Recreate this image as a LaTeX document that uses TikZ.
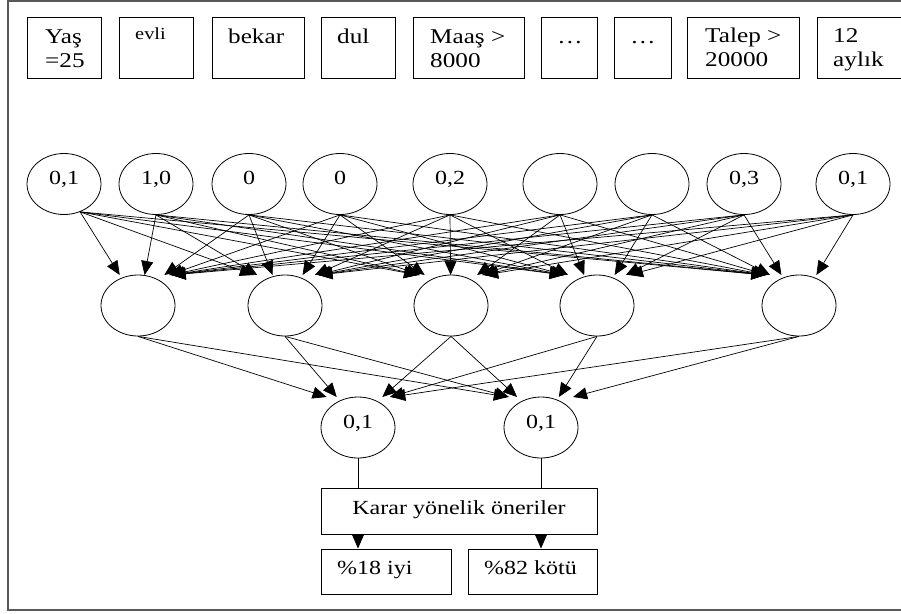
\documentclass[tikz,border=0pt]{standalone}
\usepackage{fontspec}
\setmainfont{Liberation Serif}[FakeStretch=1.2]
\usetikzlibrary{shapes.geometric,arrows.meta,calc}
\newcommand{\twoline}[2]{\vtop{\hbox{#1}\hbox{#2}}}
\begin{document}
\begin{tikzpicture}[x=1pt,y=-1pt,
  unit/.style={draw, ellipse, line width=0.8pt, minimum width=74pt, minimum height=61pt, inner sep=0pt},
  cell/.style={draw, line width=1pt, inner sep=0pt},
  lbl/.style={anchor=base, inner sep=0pt, font=\fontsize{20}{22}\selectfont},
  txt/.style={anchor=base west, inner sep=0pt, font=\fontsize{21}{24}\selectfont},
  mid/.style={anchor=base west, inner sep=0pt, font=\fontsize{20}{24}\selectfont},
  small/.style={anchor=base west, inner sep=0pt, font=\fontsize{17}{18}\selectfont},
  link/.style={line width=0.7pt, -{Triangle[length=14pt,width=12pt]}},
  plain/.style={line width=0.8pt},
]
\useasboundingbox (0,0) rectangle (901,613);
\clip (0,0) rectangle (901,613);

% outer frame
\draw[line width=2pt, draw=black!65] (8.3,0.7) rectangle (910,609.5);

% input attribute boxes
\node[cell, minimum width=74pt,  minimum height=61pt] (b1) at (64,47.5) {};
\node[cell, minimum width=74pt,  minimum height=61pt] (b2) at (156,47.5) {};
\node[cell, minimum width=92pt,  minimum height=61pt] (b3) at (258,47.5) {};
\node[cell, minimum width=74pt,  minimum height=61pt] (b4) at (358,47.5) {};
\node[cell, minimum width=111pt, minimum height=61pt] (b5) at (468.5,47.5) {};
\node[cell, minimum width=56pt,  minimum height=61pt] (b6) at (569,47.5) {};
\node[cell, minimum width=57pt,  minimum height=61pt] (b7) at (642.5,47.5) {};
\node[cell, minimum width=112pt, minimum height=61pt] (b8) at (743,47.5) {};
\node[cell, minimum width=88pt,  minimum height=61pt] (b9) at (861,47.5) {};

\node[txt]   (t1) at (45,43)  {\twoline{Yaş}{=25}};
\node[small] (t2) at (135,39) {evli};
\node[txt]   (t3) at (228,43) {bekar};
\node[txt]   (t4) at (337,43) {dul};
\node[txt]   (t5) at (430,43) {\twoline{Maaş >}{8000}};
\node[txt, anchor=base] (t6) at (570,43) {…};
\node[txt, anchor=base] (t7) at (643,43) {…};
\node[txt]   (t8) at (705,42) {\twoline{Talep >}{20000}};
\node[txt]   (t9) at (833,42) {\twoline{12}{aylık}};

% input layer
\foreach \n/\x/\v in {1/64/{0,1}, 2/156/{1,0}, 3/249/0, 4/340/0, 5/450/{0,2},
                      6/560/{}, 7/652/{}, 8/744/{0,3}, 9/853/{0,1}} {
  \node[unit] (i\n) at (\x,184) {};
  \node[lbl] (li\n) at (\x,184) {\v};
}

% hidden layer
\foreach \n/\x in {1/138, 2/285, 3/451, 4/597, 5/799}
  \node[unit] (h\n) at (\x,305.5) {};

% output layer
\node[unit] (o1) at (358,427.5) {};
\node[unit] (o2) at (541,427.5) {};
\node[lbl] (lo1) at (358,428) {0,1};
\node[lbl] (lo2) at (541,428) {0,1};

% decision boxes
\node[cell, minimum width=276pt, minimum height=46pt] (karar) at (459,511) {};
\node[cell, minimum width=130pt, minimum height=45pt] (iyi)   at (386,571.5) {};
\node[cell, minimum width=129pt, minimum height=45pt] (kotu)  at (532.5,571.5) {};
\node[mid, anchor=base] (tk) at (459,514) {Karar yönelik öneriler};
\node[mid] (ti) at (337,574) {\%18 iyi};
\node[mid] (tc) at (484,574) {\%82 kötü};

% input -> hidden connections: heads gather along the top of each hidden unit,
% shifted sideways according to the slope of the incoming line
\coordinate (s1) at (i1.-60);
\foreach \n in {2,...,9} \coordinate (s\n) at (i\n.south);
\foreach \sx [count=\a] in {80,156,249,340,450,560,652,744,853}
  \foreach \hx [count=\b] in {138,285,451,597,799} {
    \pgfmathsetmacro\off{(\sx-\hx)/veclen(\sx-\hx,91)*34}
    \coordinate (e\a-\b) at ($(h\b.center)+(\off,-30.5)$);
    \draw[link] (s\a) -- (e\a-\b);
  }

% hidden -> output connections
\foreach \hx [count=\a] in {138,285,451,597,799}
  \foreach \ox [count=\b] in {358,541} {
    \pgfmathsetmacro\off{(\hx-\ox)/veclen(\hx-\ox,91)*34}
    \coordinate (f\a-\b) at ($(o\b.center)+(\off,-30.5)$);
    \draw[link] (h\a.south) -- (f\a-\b);
  }

% output -> decision
\draw[plain] (o1.south) -- (o1.south |- karar.north);
\draw[plain] (o2.south) -- (o2.south |- karar.north);
\draw[link] (o1.south |- karar.south) -- (o1.south |- iyi.north);
\draw[link] (o2.south |- karar.south) -- (o2.south |- kotu.north);
\end{tikzpicture}
\end{document}
